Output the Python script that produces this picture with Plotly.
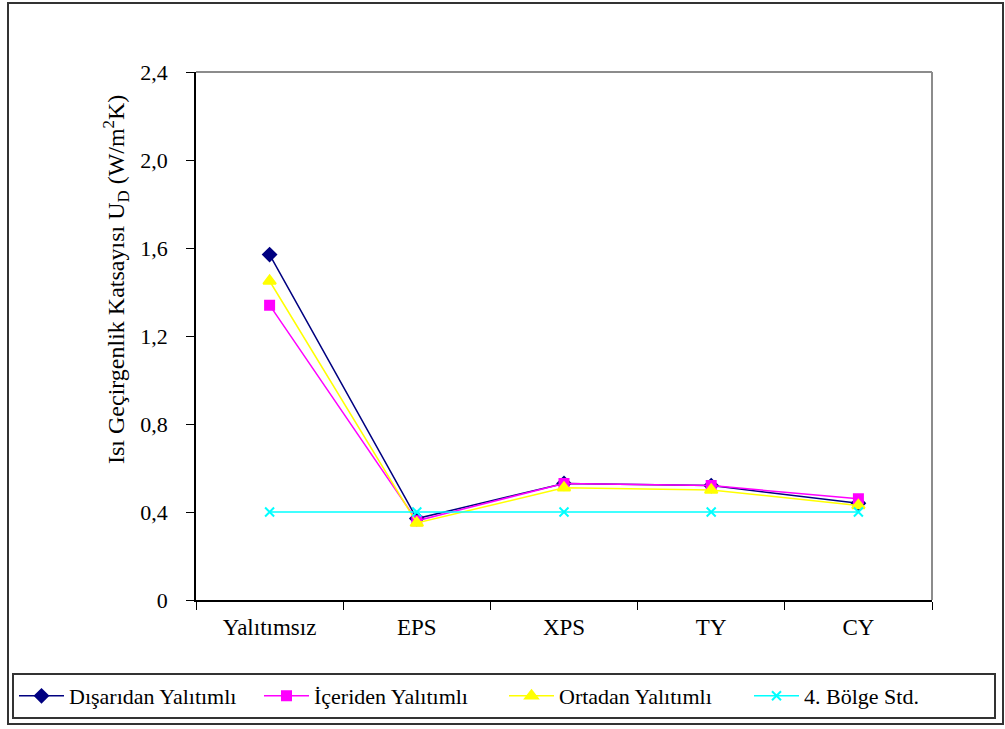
import plotly.graph_objects as go

# Insulation variants on the horizontal axis
categories = ["Yalıtımsız", "EPS", "XPS", "TY", "CY"]

# Heat transfer coefficient U_D (W/m²K) per insulation placement
disaridan = [1.57, 0.37, 0.53, 0.52, 0.44]
iceriden = [1.34, 0.36, 0.53, 0.52, 0.46]
ortadan = [1.45, 0.35, 0.51, 0.50, 0.43]
bolge_std = [0.40, 0.40, 0.40, 0.40, 0.40]

y_tickvals = [0, 0.4, 0.8, 1.2, 1.6, 2.0, 2.4]
y_ticktext = ["0", "0,4", "0,8", "1,2", "1,6", "2,0", "2,4"]

FONT = "'Times New Roman', 'Liberation Serif', 'DejaVu Serif', serif"

# Page is 1005 x 729; the plot frame spans these pixel edges
W, H = 1005, 729
L, R, T, B = 196, 932, 72, 600


def fx(x):
    return x / W


def fy(y):
    return (H - y) / H


series = [
    ("Dışarıdan Yalıtımlı", disaridan, "#000080", "diamond", 10),
    ("İçeriden Yalıtımlı", iceriden, "#FF00FF", "square", 9),
    ("Ortadan Yalıtımlı", ortadan, "#FFFF00", "triangle-up", 11),
    ("4. Bölge Std.", bolge_std, "#00FFFF", "x-thin", 9),
]

fig = go.Figure()
for name, vals, color, symbol, size in series:
    fig.add_trace(go.Scatter(
        x=categories, y=vals, name=name, mode="lines+markers",
        line=dict(color=color, width=1.5),
        marker=dict(symbol=symbol, size=size, color=color,
                    line=dict(color=color, width=2)),
    ))

fig.update_layout(
    width=W, height=H,
    margin=dict(l=0, r=0, t=0, b=0, autoexpand=False),
    paper_bgcolor="white", plot_bgcolor="rgba(0,0,0,0)",
    font=dict(family=FONT, color="black", size=22),
    showlegend=True,
    legend=dict(
        orientation="h", x=fx(12), y=fy(696),
        xanchor="left", yanchor="middle",
        font=dict(family=FONT, size=22, color="black"),
        bordercolor="#333333", borderwidth=2,
        itemwidth=45, entrywidth=185, tracegroupgap=0,
        bgcolor="white",
    ),
    xaxis=dict(
        type="category", range=[-0.5, 4.5], domain=[fx(L), fx(R)],
        tickson="boundaries", ticks="outside", ticklen=8,
        tickcolor="black", tickwidth=1,
        showline=True, linecolor="black", linewidth=1.5,
        showgrid=False, zeroline=False,
        tickfont=dict(family=FONT, size=23),
        ticklabelstandoff=6,
    ),
    yaxis=dict(
        range=[0, 2.4], domain=[fy(B), fy(T)],
        tickvals=y_tickvals, ticktext=y_ticktext,
        ticks="outside", ticklen=8, tickcolor="black", tickwidth=1,
        showline=True, linecolor="black", linewidth=1.5,
        showgrid=False, zeroline=False,
        tickfont=dict(family=FONT, size=22),
        ticklabelstandoff=14,
    ),
    annotations=[dict(
        text="Isı Geçirgenlik Katsayısı U<sub>D</sub> (W/m<sup>2</sup>K)",
        xref="paper", yref="paper", x=fx(116), y=fy(280),
        xanchor="center", yanchor="middle", textangle=-90,
        showarrow=False, font=dict(family=FONT, size=24, color="black"),
    )],
    shapes=[
        # top and right edges of the plot frame
        dict(type="line", xref="paper", yref="paper",
             x0=fx(L), x1=fx(R), y0=fy(T), y1=fy(T),
             line=dict(color="#8c8c8c", width=2)),
        dict(type="line", xref="paper", yref="paper",
             x0=fx(R), x1=fx(R), y0=fy(B), y1=fy(T),
             line=dict(color="#8c8c8c", width=2)),
        # outer chart border
        dict(type="rect", xref="paper", yref="paper",
             x0=fx(8), x1=fx(1003), y0=fy(724), y1=fy(3),
             line=dict(color="#333333", width=2), layer="below"),
    ],
)

fig.write_html("out.html")
